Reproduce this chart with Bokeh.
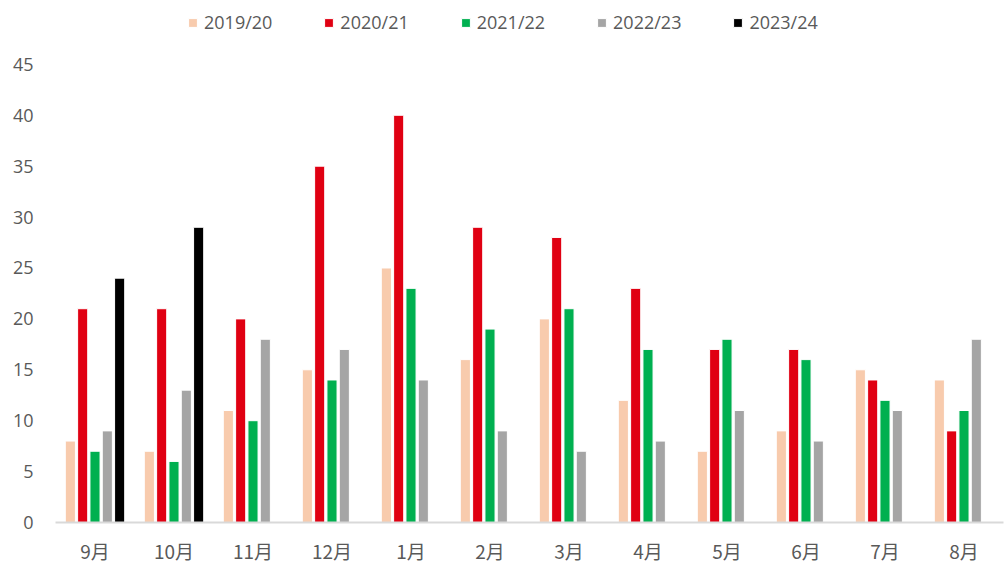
from bokeh.plotting import figure
from bokeh.models import (ColumnDataSource, FactorRange, Range1d, FixedTicker,
                          Legend, LegendItem)
from bokeh.transform import dodge
from bokeh.embed import file_html
from bokeh.resources import INLINE

months = ["9月", "10月", "11月", "12月", "1月", "2月", "3月", "4月", "5月", "6月", "7月", "8月"]
s2019 = [8, 7, 11, 15, 25, 16, 20, 12, 7, 9, 15, 14]
s2020 = [21, 21, 20, 35, 40, 29, 28, 23, 17, 17, 14, 9]
s2021 = [7, 6, 10, 14, 23, 19, 21, 17, 18, 16, 12, 11]
s2022 = [9, 13, 18, 17, 14, 9, 7, 8, 11, 8, 11, 18]
months_2023 = ["9月", "10月"]
s2023 = [24, 29]

series_names = ["2019/20", "2020/21", "2021/22", "2022/23", "2023/24"]
colors = ["#F8CBAD", "#E00012", "#00B050", "#A5A5A5", "#000000"]
y_ticks = [0, 5, 10, 15, 20, 25, 30, 35, 40, 45]

src = ColumnDataSource(dict(m=months, a=s2019, b=s2020, c=s2021, d=s2022))
src23 = ColumnDataSource(dict(m=months_2023, e=s2023))

# plot area spans the full height; room above the 45 tick holds the legend
frame_h = 523
axis_top_px = 459
y_max = 45 * frame_h / axis_top_px

p = figure(x_range=FactorRange(*months, range_padding=0), y_range=Range1d(0, y_max),
           width=1005, height=566, output_backend="svg", toolbar_location=None,
           min_border_left=55, min_border_right=2, min_border_top=0, min_border_bottom=43)

step = 0.156
bw = 0.128
renderers = []
cols = ["a", "b", "c", "d"]
for i, col in enumerate(cols):
    r = p.vbar(x=dodge("m", (i - 2) * step, range=p.x_range), top=col, width=bw,
               source=src, fill_color=colors[i], line_color="white", line_width=1)
    renderers.append(r)
r = p.vbar(x=dodge("m", 2 * step, range=p.x_range), top="e", width=bw,
           source=src23, fill_color=colors[4], line_color="white", line_width=1)
renderers.append(r)

legend = Legend(items=[LegendItem(label=n, renderers=[rr]) for n, rr in zip(series_names, renderers)],
                orientation="horizontal", location=(132, 488),
                glyph_width=11, glyph_height=11, label_standoff=6, spacing=51,
                padding=0, margin=0, border_line_color=None, background_fill_alpha=0,
                label_text_font="Open Sans", label_text_font_size="18px",
                label_text_color="#595959")
p.add_layout(legend, "center")

p.xgrid.grid_line_color = None
p.ygrid.grid_line_color = None
p.outline_line_color = None

p.yaxis.ticker = FixedTicker(ticks=y_ticks)
p.yaxis.axis_line_color = None
p.yaxis.major_tick_line_color = None
p.yaxis.minor_tick_line_color = None
p.yaxis.major_label_standoff = 16
p.yaxis.major_label_text_font = "Open Sans"
p.yaxis.major_label_text_font_size = "18px"
p.yaxis.major_label_text_color = "#595959"

p.xaxis.axis_line_color = "#D9D9D9"
p.xaxis.axis_line_width = 2
p.xaxis.major_tick_line_color = None
p.xaxis.minor_tick_line_color = None
p.xaxis.major_label_standoff = 8
p.xaxis.major_label_text_font = "Noto Sans CJK SC"
p.xaxis.major_label_text_font_size = "19px"
p.xaxis.major_label_text_color = "#595959"

open("out.html", "w").write(file_html(p, INLINE))
